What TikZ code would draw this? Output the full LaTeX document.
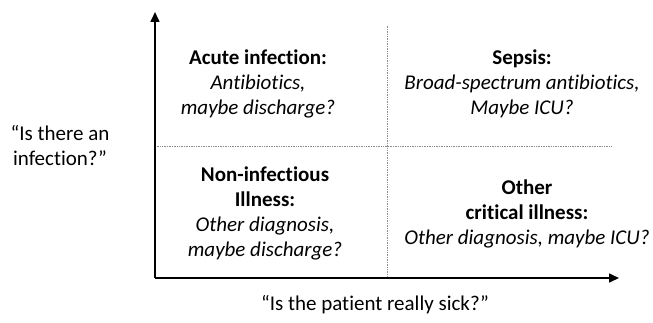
\documentclass[tikz,border=0pt]{standalone}
\usepackage{fontspec}
\setmainfont{Carlito}[RawFeature=-liga]
\usepackage{tikz}
\usetikzlibrary{arrows.meta,positioning}
\definecolor{dotgray}{gray}{0.55}

\begin{document}
\begin{tikzpicture}[x=1pt,y=1pt,
    axis/.style={line width=1.6pt, -{Triangle[length=10pt,width=9pt]}},
    split/.style={densely dotted, dotgray, line width=0.7pt},
    quad/.style={align=center, font=\fontsize{21}{25}\selectfont},
    question/.style={align=center, font=\fontsize{21}{25}\selectfont}]
            \useasboundingbox (0,0) rectangle (653,322);
            % Define points
            \coordinate (O) at (155, 44);
            \coordinate (Ytop) at (155, 310);
            \coordinate (Xend) at (619, 44);
            \coordinate (Vtop) at (387, 296);
            \coordinate (Vbot) at (387, 44);
            \coordinate (Hleft) at (155, 176);
            \coordinate (Hright) at (612, 176);
            % Quadrant split lines
            \draw[split] (Vbot) -- (Vtop);
            \draw[split] (Hleft) -- (Hright);
            % Draw axes
            \draw[axis] (O) -- (Ytop);
            \draw[axis] (O) -- (Xend);
            % Quadrant labels
            \node[quad] (acute) at (258, 238)
              {\textbf{Acute infection:}\\ \textit{Antibiotics,}\\ \textit{maybe discharge?}};
            \node[quad] (sepsis) at (522, 238)
              {\textbf{Sepsis:}\\ \textit{Broad-spectrum antibiotics,}\\ \textit{Maybe ICU?}};
            \node[quad] (noninf) at (265, 109)
              {\textbf{Non-infectious}\\ \textbf{Illness:}\\ \textit{Other diagnosis,}\\ \textit{maybe discharge?}};
            \node[quad] (critical) at (527, 108)
              {\textbf{Other}\\ \textbf{critical illness:}\\ \textit{Other diagnosis, maybe ICU?}};
            % Axis questions
            \node[question] (infq) at (60, 176) {``Is there an\\ infection?''};
            \node[question] (sickq) at (375, 17) {``Is the patient really sick?''};
          \end{tikzpicture}
\end{document}
